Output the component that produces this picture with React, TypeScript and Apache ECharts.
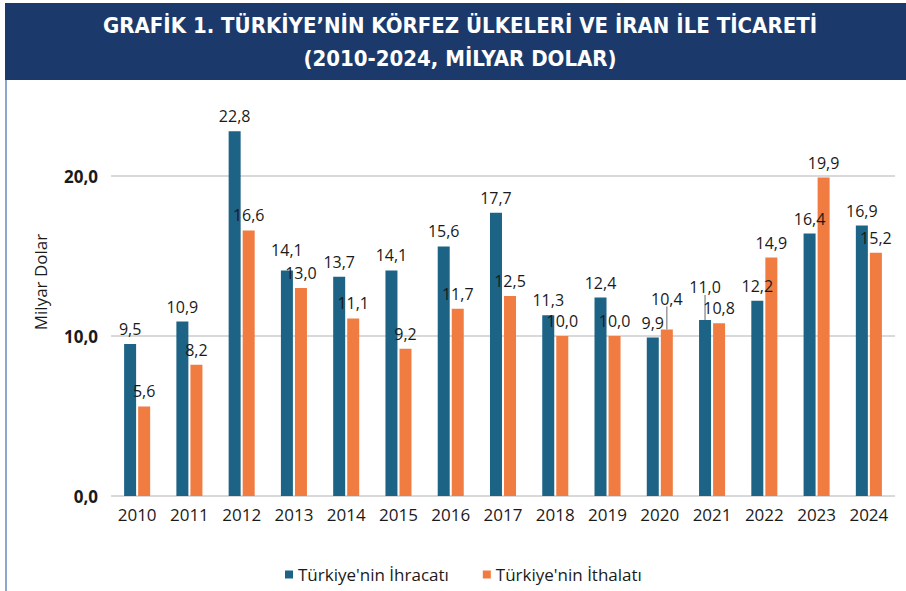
import React, { useEffect, useRef } from "react";
import * as echarts from "echarts";

const years = ["2010","2011","2012","2013","2014","2015","2016","2017","2018","2019","2020","2021","2022","2023","2024"];
const exportsBn = [9.5, 10.9, 22.8, 14.1, 13.7, 14.1, 15.6, 17.7, 11.3, 12.4, 9.9, 11.0, 12.2, 16.4, 16.9];
const importsBn = [5.6, 8.2, 16.6, 13.0, 11.1, 9.2, 11.7, 12.5, 10.0, 10.0, 10.4, 10.8, 14.9, 19.9, 15.2];
const seriesNames = ["Türkiye'nin İhracatı", "Türkiye'nin İthalatı"];
const titleLines = ["GRAFİK 1. TÜRKİYE’NİN KÖRFEZ ÜLKELERİ VE İRAN İLE TİCARETİ", "(2010-2024, MİLYAR DOLAR)"];
const yAxisName = "Milyar Dolar";
// moved labels: [seriesIndex, dataIndex, dy, with leader line]
const movedLabels: [number, number, number, boolean][] = [
  [1, 10, -16, true],
  [0, 11, -18, true],
  [0, 3, -5, false],
];

const fmt = (v: number) => v.toFixed(1).replace(".", ",");

export default function App() {
  const ref = useRef<HTMLDivElement>(null);
  useEffect(() => {
    if (!ref.current) return;
    const chart = echarts.init(ref.current, undefined, { renderer: "svg" });
    const mkData = (arr: number[], si: number) =>
      arr.map((v, i) => {
        const m = movedLabels.find(([s, d]) => s === si && d === i);
        return m && m[3] ? { value: v, labelLine: { show: true } } : { value: v };
      });
    const labelStyle = {
      show: true,
      position: "top",
      distance: 7,
      fontFamily: "Open Sans",
      fontSize: 16,
      lineHeight: 16,
      color: "#1a1a1a",
      formatter: (p: any) => fmt(Number(p.value)),
    };
    const layoutFor = (si: number) => (p: any) => {
      const m = movedLabels.find(([s, d]) => s === si && d === p.dataIndex);
      return m ? { dy: m[2] } : {};
    };
    const titleStyle = {
      fill: "#ffffff",
      fontFamily: "DejaVu Sans Condensed",
      fontWeight: "bold",
      fontSize: 22,
      textAlign: "center",
      textVerticalAlign: "middle",
    };
    chart.setOption({
      animation: false,
      backgroundColor: "#ffffff",
      graphic: [
        { type: "rect", z: 0, silent: true, shape: { x: 5, y: 3, width: 901, height: 77 }, style: { fill: "#1b3a6b" } },
        { type: "rect", z: 0, silent: true, shape: { x: 5, y: 80, width: 2, height: 511 }, style: { fill: "#8ea6cd" } },
        { type: "text", z: 5, x: 460, y: 25, style: { ...titleStyle, text: titleLines[0] } },
        { type: "text", z: 5, x: 460, y: 58, style: { ...titleStyle, text: titleLines[1] } },
        {
          type: "text",
          x: 40,
          y: 282,
          rotation: Math.PI / 2,
          style: {
            text: yAxisName,
            fill: "#1a1a1a",
            fontFamily: "Open Sans",
            fontSize: 17,
            textAlign: "center",
            textVerticalAlign: "middle",
          },
        },
      ],
      legend: {
        left: 280,
        top: 561,
        icon: "rect",
        itemWidth: 8,
        itemHeight: 8,
        itemGap: 34,
        textStyle: { fontFamily: "Open Sans", fontSize: 17, color: "#1a1a1a" },
        data: seriesNames,
      },
      grid: { left: 111, right: 11, top: 96, bottom: 95 },
      xAxis: {
        type: "category",
        data: years,
        axisLine: { show: false },
        axisTick: { show: false },
        axisLabel: { fontFamily: "Open Sans", fontSize: 17, color: "#1a1a1a", margin: 10 },
      },
      yAxis: {
        type: "value",
        min: 0,
        max: 25,
        interval: 10,
        axisLine: { show: false },
        axisTick: { show: false },
        axisLabel: {
          fontFamily: "Open Sans",
          fontWeight: "bold",
          fontSize: 17,
          color: "#1a1a1a",
          margin: 13,
          showMaxLabel: false,
          formatter: (v: number) => (v > 20 ? "" : fmt(v)),
        },
        splitLine: {
          lineStyle: { color: ["#d9d9d9", "#d9d9d9", "#d9d9d9", "rgba(0,0,0,0)"], width: 2 },
        },
      },
      series: [
        {
          name: seriesNames[0],
          type: "bar",
          data: mkData(exportsBn, 0),
          barWidth: 12,
          barGap: "17%",
          itemStyle: { color: "#1c6386" },
          label: labelStyle,
          labelLine: { show: false, lineStyle: { color: "#9a9a9a", width: 1.5 } },
          labelLayout: layoutFor(0),
        },
        {
          name: seriesNames[1],
          type: "bar",
          data: mkData(importsBn, 1),
          barWidth: 12,
          barGap: "17%",
          itemStyle: { color: "#f07c42" },
          label: labelStyle,
          labelLine: { show: false, lineStyle: { color: "#9a9a9a", width: 1.5 } },
          labelLayout: layoutFor(1),
        },
      ],
    });
    return () => chart.dispose();
  }, []);
  return <div ref={ref} style={{ width: 906, height: 591, position: "absolute", left: 0, top: 0 }} />;
}
